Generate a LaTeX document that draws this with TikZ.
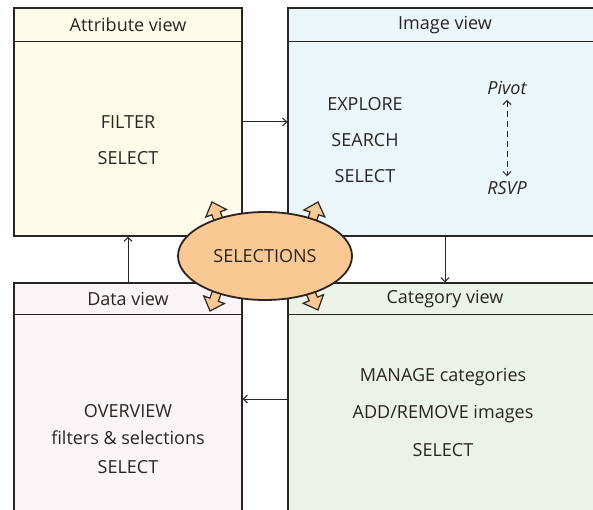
\documentclass[tikz,border=0pt]{standalone}
\usepackage{fontspec}
\setmainfont{Open Sans}
\usetikzlibrary{arrows.meta,shapes.geometric}

\definecolor{ink}{HTML}{2A2522}
\definecolor{attrfill}{HTML}{FFFBE8}
\definecolor{imgfill}{HTML}{EAF6FA}
\definecolor{datafill}{HTML}{FAF4F7}
\definecolor{catfill}{HTML}{EBF3E8}
\definecolor{selfill}{HTML}{F9C993}

\tikzset{
  panel/.style={draw=ink, line width=1.4pt, rectangle, inner sep=0pt},
  viewtitle/.style={font=\fontsize{18}{20}\selectfont, text=ink, inner sep=1pt},
  body/.style={font=\fontsize{18}{20}\selectfont, text=ink, inner sep=1pt},
  flow/.style={draw=ink, line width=1pt, -{Straight Barb[length=4pt,width=8pt]}},
  fatarrow/.pic={
    \filldraw[fill=selfill, draw=ink, line width=1.2pt, line join=miter]
      (0,0) -- (-12,11) -- (-12,4.5) -- (-30,4.5) -- (-30,-4.5)
      -- (-12,-4.5) -- (-12,-11) -- cycle;
  }
}

\begin{document}
\begin{tikzpicture}[x=1pt,y=-1pt]
\useasboundingbox (0,0) rectangle (593,510);

% the four view panels (right and bottom ones run past the page edge)
\begin{scope}
\clip (0,0) rectangle (593,510);
\node[panel, fill=attrfill, minimum width=228pt, minimum height=228pt] (attr) at (128,122) {};
\node[panel, fill=imgfill,  minimum width=314pt, minimum height=228pt] (img)  at (445,122) {};
\node[panel, fill=datafill, minimum width=228pt, minimum height=232pt] (data) at (128,399) {};
\node[panel, fill=catfill,  minimum width=314pt, minimum height=232pt] (cat)  at (445,399) {};

% header separators
\draw[ink, line width=1.4pt] ([yshift=-34pt]attr.north west) -- ([yshift=-34pt]attr.north east);
\draw[ink, line width=1.4pt] ([yshift=-34pt]img.north west)  -- ([yshift=-34pt]img.north east);
\draw[ink, line width=1.4pt] ([yshift=-32pt]data.north west) -- ([yshift=-32pt]data.north east);
\draw[ink, line width=1.4pt] ([yshift=-32pt]cat.north west)  -- ([yshift=-32pt]cat.north east);
\end{scope}

% header titles
\node[viewtitle] (attrT) at (128,25)  {Attribute view};
\node[viewtitle] (imgT)  at (445,25)  {Image view};
\node[viewtitle] (dataT) at (128,299) {Data view};
\node[viewtitle] (catT)  at (445,299) {Category view};

% attribute view
\node[body] (filter) at (128,122) {FILTER};
\node[body] (asel)   at (128,158) {SELECT};

% image view
\node[body] (explore) at (365,104) {EXPLORE};
\node[body] (search)  at (365,140) {SEARCH};
\node[body] (isel)    at (365,176) {SELECT};
\node[body, font=\fontsize{18}{20}\selectfont\itshape] (pivot) at (507,88)  {Pivot};
\node[body, font=\fontsize{18}{20}\selectfont\itshape] (rsvp)  at (507,188) {RSVP};
\draw[ink, line width=1pt, dash pattern=on 6pt off 4pt,
      {Straight Barb[length=4pt,width=8pt]}-{Straight Barb[length=4pt,width=8pt]},
      shorten <=4pt, shorten >=4pt] (pivot) -- (rsvp);

% data view
\node[body] (overview) at (128,411) {OVERVIEW};
\node[body] (filtsel)  at (128,438) {filters \& selections};
\node[body] (dsel)     at (128,467) {SELECT};

% category view
\node[body] (manage) at (443,377) {MANAGE categories};
\node[body] (addrem) at (443,414) {ADD/REMOVE images};
\node[body] (csel)   at (443,450) {SELECT};

% hand-offs between the views
\draw[flow] (attr.east) -- (img.west);
\draw[flow] (img.south) -- (cat.north);
\draw[flow] (cat.west) -- (data.east);
\draw[flow] (data.north) -- (attr.south);

% shared selections hub with its four outward arrows
\path (212,202) pic[rotate=110] {fatarrow};
\path (318,202) pic[rotate=72]  {fatarrow};
\path (210,311) pic[rotate=250] {fatarrow};
\path (318,310) pic[rotate=293] {fatarrow};
\node[ellipse, draw=ink, line width=1.8pt, fill=selfill,
      minimum width=174pt, minimum height=88pt,
      font=\fontsize{18}{20}\selectfont, text=ink] (sel) at (265,256) {SELECTIONS};
\end{tikzpicture}
\end{document}
